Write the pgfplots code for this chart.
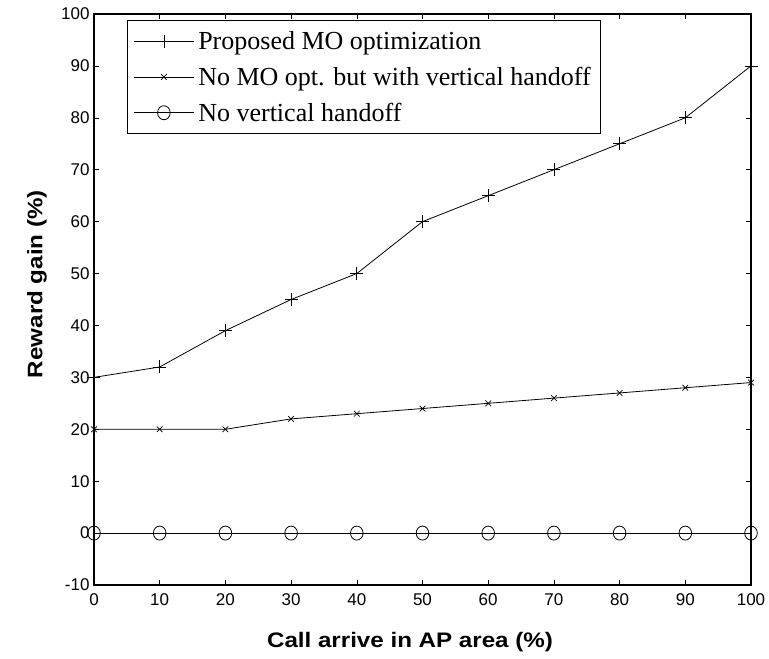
\documentclass[border=0pt]{standalone}
\usepackage{pgfplots}
\pgfplotsset{compat=1.18}
\usepackage{fontspec}
\setmainfont{Liberation Sans}
\newfontfamily\legfont{Liberation Serif}
\newfontfamily\labfont[FakeStretch=1.15]{Liberation Sans}

\begin{document}
\begin{tikzpicture}
\path[use as bounding box] (-94pt,-74pt) rectangle (675pt,585pt);
\begin{axis}[
  at={(0pt,0pt)}, anchor=south west,
  scale only axis,
  width=657pt, height=571pt,
  xmin=0, xmax=100, ymin=-10, ymax=100,
  xtick={0,10,...,100},
  ytick={-10,0,10,...,100},
  xticklabels={0,10,20,30,40,50,60,70,80,90,100},
  yticklabels={-10,0,10,20,30,40,50,60,70,80,90,100},
  tick align=inside,
  major tick length=5pt,
  tick style={black, line width=0.6pt},
  axis line style={line width=1.1pt},
  ticklabel style={font=\fontsize{17}{19}\selectfont},
  xticklabel style={yshift=-5pt},
  yticklabel style={xshift=-1pt},
  xlabel={Call arrive in AP area (\%)},
  ylabel={Reward gain (\%)},
  label style={font=\fontsize{21}{24}\selectfont\labfont\bfseries},
  xlabel style={at={(axis description cs:0.481,-0.1)}, anchor=center},
  ylabel style={at={(axis description cs:-0.0868,0.527)}, anchor=center, rotate=0},
  legend cell align=left,
  legend style={
    at={(axis description cs:0.0502,0.9895)}, anchor=north west,
    font=\fontsize{26}{29}\selectfont\legfont,
    draw=black, line width=1pt,
    inner xsep=6pt, inner ysep=9pt,
    row sep=12pt,
    nodes={inner xsep=4pt, inner ysep=2pt},
  },
  legend image code/.code={
    \draw[mark repeat=2, mark phase=2, #1]
      plot coordinates {(0pt,0pt) (30pt,0pt) (60pt,0pt)};
  },
  every axis plot/.append style={black, line width=0.8pt, mark options={solid, line width=0.7pt}},
]
% proposed multi-objective optimization
\addplot[mark=+, mark size=6.5pt] coordinates {
  (0,30) (10,32) (20,39) (30,45) (40,50) (50,60)
  (60,65) (70,70) (80,75) (90,80) (100,90)
};
\addlegendentry{Proposed MO optimization}
% vertical handoff without optimization
\addplot[mark=x, mark size=4pt] coordinates {
  (0,20) (10,20) (20,20) (30,22) (40,23) (50,24)
  (60,25) (70,26) (80,27) (90,28) (100,29)
};
\addlegendentry{No MO opt. but with vertical handoff}
% baseline
\addplot[mark=o, mark size=7pt, mark options={xscale=0.9}] coordinates {
  (0,0) (10,0) (20,0) (30,0) (40,0) (50,0)
  (60,0) (70,0) (80,0) (90,0) (100,0)
};
\addlegendentry{No vertical handoff}
\end{axis}
\end{tikzpicture}
\end{document}
